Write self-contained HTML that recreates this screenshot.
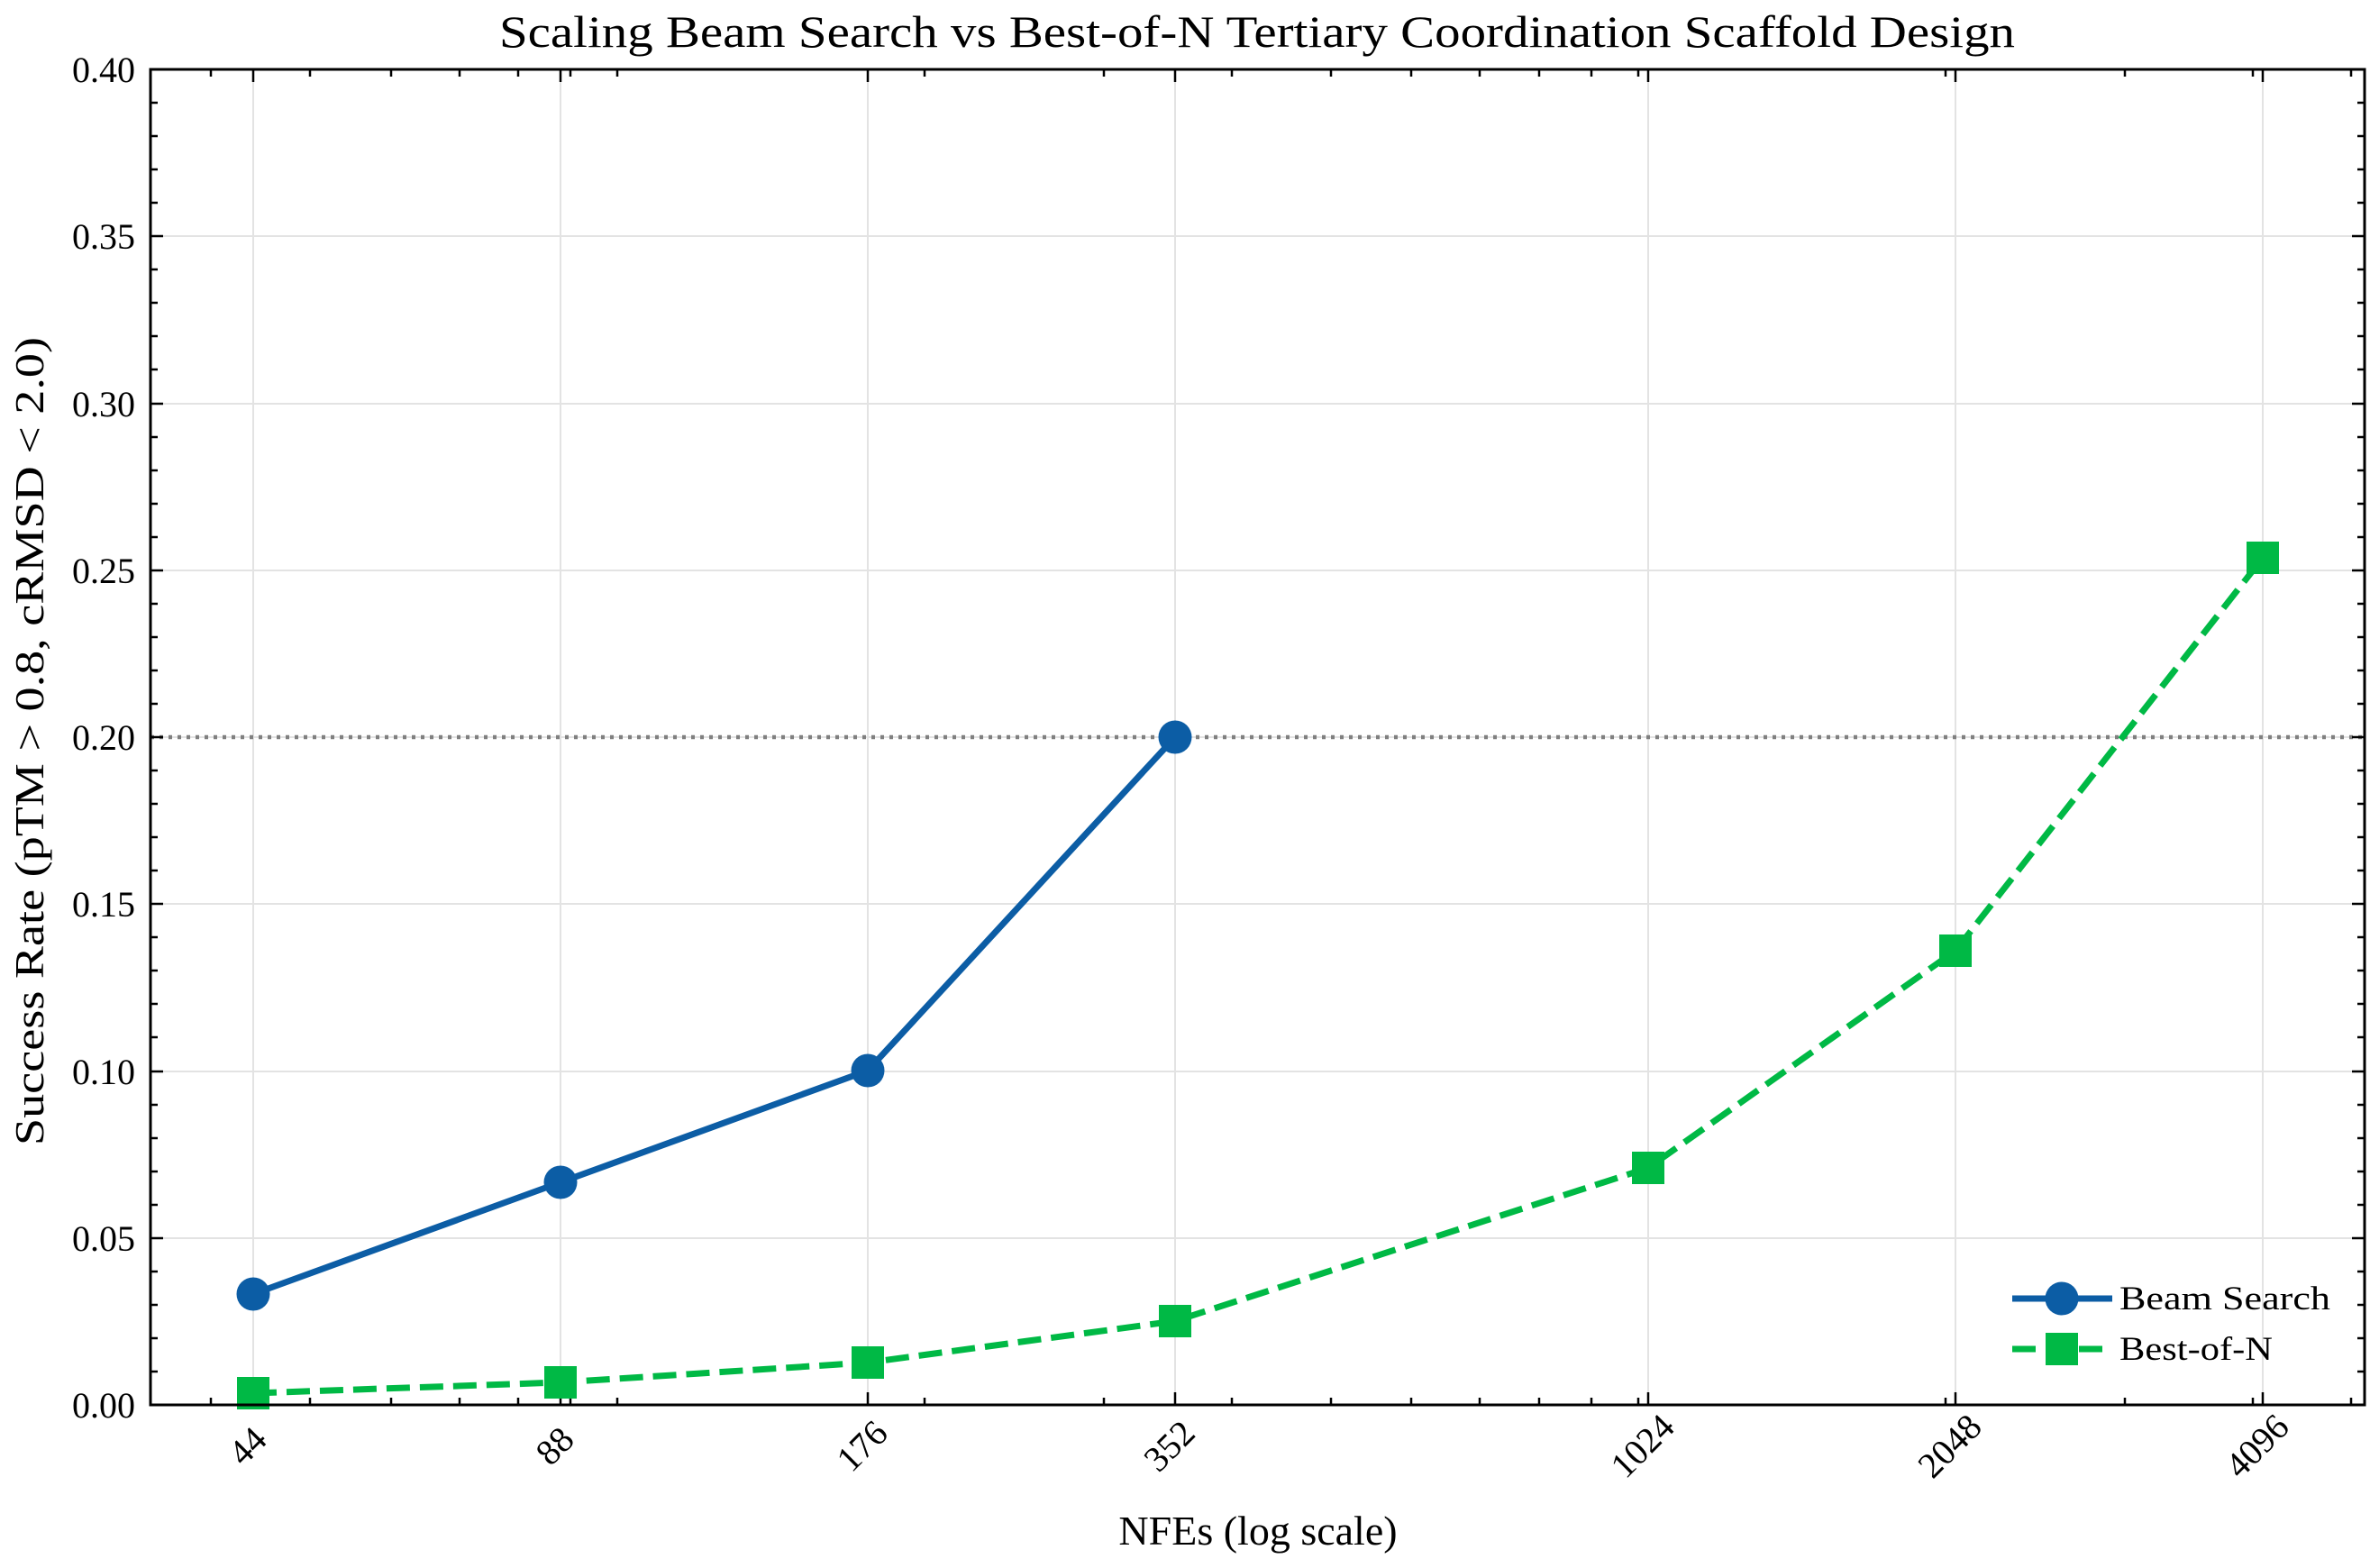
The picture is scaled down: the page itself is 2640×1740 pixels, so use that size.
<!DOCTYPE html>
<html><head><meta charset="utf-8"><style>body{margin:0;background:#fff}svg{display:block}</style></head><body>
<svg width="2640" height="1740" viewBox="0 0 2640 1740" xmlns="http://www.w3.org/2000/svg" font-family="Liberation Serif, serif">
<g stroke="#e3e3e3" stroke-width="2">
<line x1="167" x2="2624" y1="1374" y2="1374"/><line x1="167" x2="2624" y1="1189" y2="1189"/><line x1="167" x2="2624" y1="1003" y2="1003"/><line x1="167" x2="2624" y1="818" y2="818"/><line x1="167" x2="2624" y1="633" y2="633"/><line x1="167" x2="2624" y1="448" y2="448"/><line x1="167" x2="2624" y1="262" y2="262"/>
<line x1="281" x2="281" y1="77" y2="1559"/><line x1="622" x2="622" y1="77" y2="1559"/><line x1="963" x2="963" y1="77" y2="1559"/><line x1="1304" x2="1304" y1="77" y2="1559"/><line x1="1829" x2="1829" y1="77" y2="1559"/><line x1="2170" x2="2170" y1="77" y2="1559"/><line x1="2511" x2="2511" y1="77" y2="1559"/>
</g>
<line x1="167" x2="2624" y1="818" y2="818" stroke="#808080" stroke-width="4.5" stroke-dasharray="4,6"/>
<g stroke="#000" stroke-width="2.5" fill="none">
<path d="M281 1559v-14M622 1559v-14M963 1559v-14M1304 1559v-14M1829 1559v-14M2170 1559v-14M2511 1559v-14M281 77v14M622 77v14M963 77v14M1304 77v14M1829 77v14M2170 77v14M2511 77v14"/>
<path d="M234 1559v-8M344 1559v-8M434 1559v-8M510 1559v-8M575 1559v-8M633 1559v-8M685 1559v-8M1026 1559v-8M1225 1559v-8M1367 1559v-8M1477 1559v-8M1566 1559v-8M1642 1559v-8M1708 1559v-8M1766 1559v-8M1818 1559v-8M2159 1559v-8M2358 1559v-8M2500 1559v-8M2609 1559v-8"/>
<path d="M234 77v8M344 77v8M434 77v8M510 77v8M575 77v8M633 77v8M685 77v8M1026 77v8M1225 77v8M1367 77v8M1477 77v8M1566 77v8M1642 77v8M1708 77v8M1766 77v8M1818 77v8M2159 77v8M2358 77v8M2500 77v8M2609 77v8"/>
<path d="M167 1374h14M167 1189h14M167 1003h14M167 818h14M167 633h14M167 448h14M167 262h14M2624 1374h-14M2624 1189h-14M2624 1003h-14M2624 818h-14M2624 633h-14M2624 448h-14M2624 262h-14"/>
<path d="M167 1522h8M167 1485h8M167 1448h8M167 1411h8M167 1337h8M167 1300h8M167 1263h8M167 1226h8M167 1151h8M167 1114h8M167 1077h8M167 1040h8M167 966h8M167 929h8M167 892h8M167 855h8M167 781h8M167 744h8M167 707h8M167 670h8M167 596h8M167 559h8M167 522h8M167 485h8M167 410h8M167 373h8M167 336h8M167 299h8M167 225h8M167 188h8M167 151h8M167 114h8"/>
<path d="M2624 1522h-8M2624 1485h-8M2624 1448h-8M2624 1411h-8M2624 1337h-8M2624 1300h-8M2624 1263h-8M2624 1226h-8M2624 1151h-8M2624 1114h-8M2624 1077h-8M2624 1040h-8M2624 966h-8M2624 929h-8M2624 892h-8M2624 855h-8M2624 781h-8M2624 744h-8M2624 707h-8M2624 670h-8M2624 596h-8M2624 559h-8M2624 522h-8M2624 485h-8M2624 410h-8M2624 373h-8M2624 336h-8M2624 299h-8M2624 225h-8M2624 188h-8M2624 151h-8M2624 114h-8"/>
</g>
<polyline points="281,1436 622,1312 963,1188 1304,818" fill="none" stroke="#0C5DA5" stroke-width="7"/>
<g fill="#0C5DA5"><circle cx="281" cy="1436" r="18.5"/><circle cx="622" cy="1312" r="18.5"/><circle cx="963" cy="1188" r="18.5"/><circle cx="1304" cy="818" r="18.5"/></g>
<polyline points="281,1546 622,1534 963,1512 1304,1466 1829,1296 2170,1055 2511,619" fill="none" stroke="#00B945" stroke-width="7" stroke-dasharray="26,11"/>
<g fill="#00B945"><rect x="263" y="1528" width="36" height="36"/><rect x="604" y="1516" width="36" height="36"/><rect x="945" y="1494" width="36" height="36"/><rect x="1286" y="1448" width="36" height="36"/><rect x="1811" y="1278" width="36" height="36"/><rect x="2152" y="1037" width="36" height="36"/><rect x="2493" y="601" width="36" height="36"/></g>
<rect x="167" y="77" width="2457" height="1482" fill="none" stroke="#000" stroke-width="3"/>
<g font-size="40" text-anchor="end">
<text x="150" y="1573">0.00</text><text x="150" y="1388">0.05</text><text x="150" y="1203">0.10</text><text x="150" y="1017">0.15</text><text x="150" y="832">0.20</text><text x="150" y="647">0.25</text><text x="150" y="462">0.30</text><text x="150" y="276">0.35</text><text x="150" y="91">0.40</text>
</g>
<g font-size="40" text-anchor="middle">
<text transform="translate(284,1614) rotate(-45)">44</text><text transform="translate(625,1614) rotate(-45)">88</text><text transform="translate(966,1614) rotate(-45)">176</text><text transform="translate(1307,1614) rotate(-45)">352</text><text transform="translate(1832,1614) rotate(-45)">1024</text><text transform="translate(2173,1614) rotate(-45)">2048</text><text transform="translate(2514,1614) rotate(-45)">4096</text>
</g>
<text x="554" y="52" font-size="50" textLength="1682" lengthAdjust="spacingAndGlyphs">Scaling Beam Search vs Best-of-N Tertiary Coordination Scaffold Design</text>
<text x="1396" y="1714" font-size="46" text-anchor="middle">NFEs (log scale)</text>
<text transform="translate(48,1271) rotate(-90)" font-size="46" textLength="897" lengthAdjust="spacingAndGlyphs">Success Rate (pTM &gt; 0.8, cRMSD &lt; 2.0)</text>
<line x1="2233" x2="2344" y1="1441" y2="1441" stroke="#0C5DA5" stroke-width="7"/><circle cx="2288" cy="1441" r="18.5" fill="#0C5DA5"/>
<line x1="2233" x2="2344" y1="1497" y2="1497" stroke="#00B945" stroke-width="7" stroke-dasharray="26,11"/><rect x="2270" y="1479" width="36" height="36" fill="#00B945"/>
<text x="2352" y="1453" font-size="37" textLength="234" lengthAdjust="spacingAndGlyphs">Beam Search</text>
<text x="2352" y="1509" font-size="37" textLength="170" lengthAdjust="spacingAndGlyphs">Best-of-N</text>
</svg>
</body></html>
